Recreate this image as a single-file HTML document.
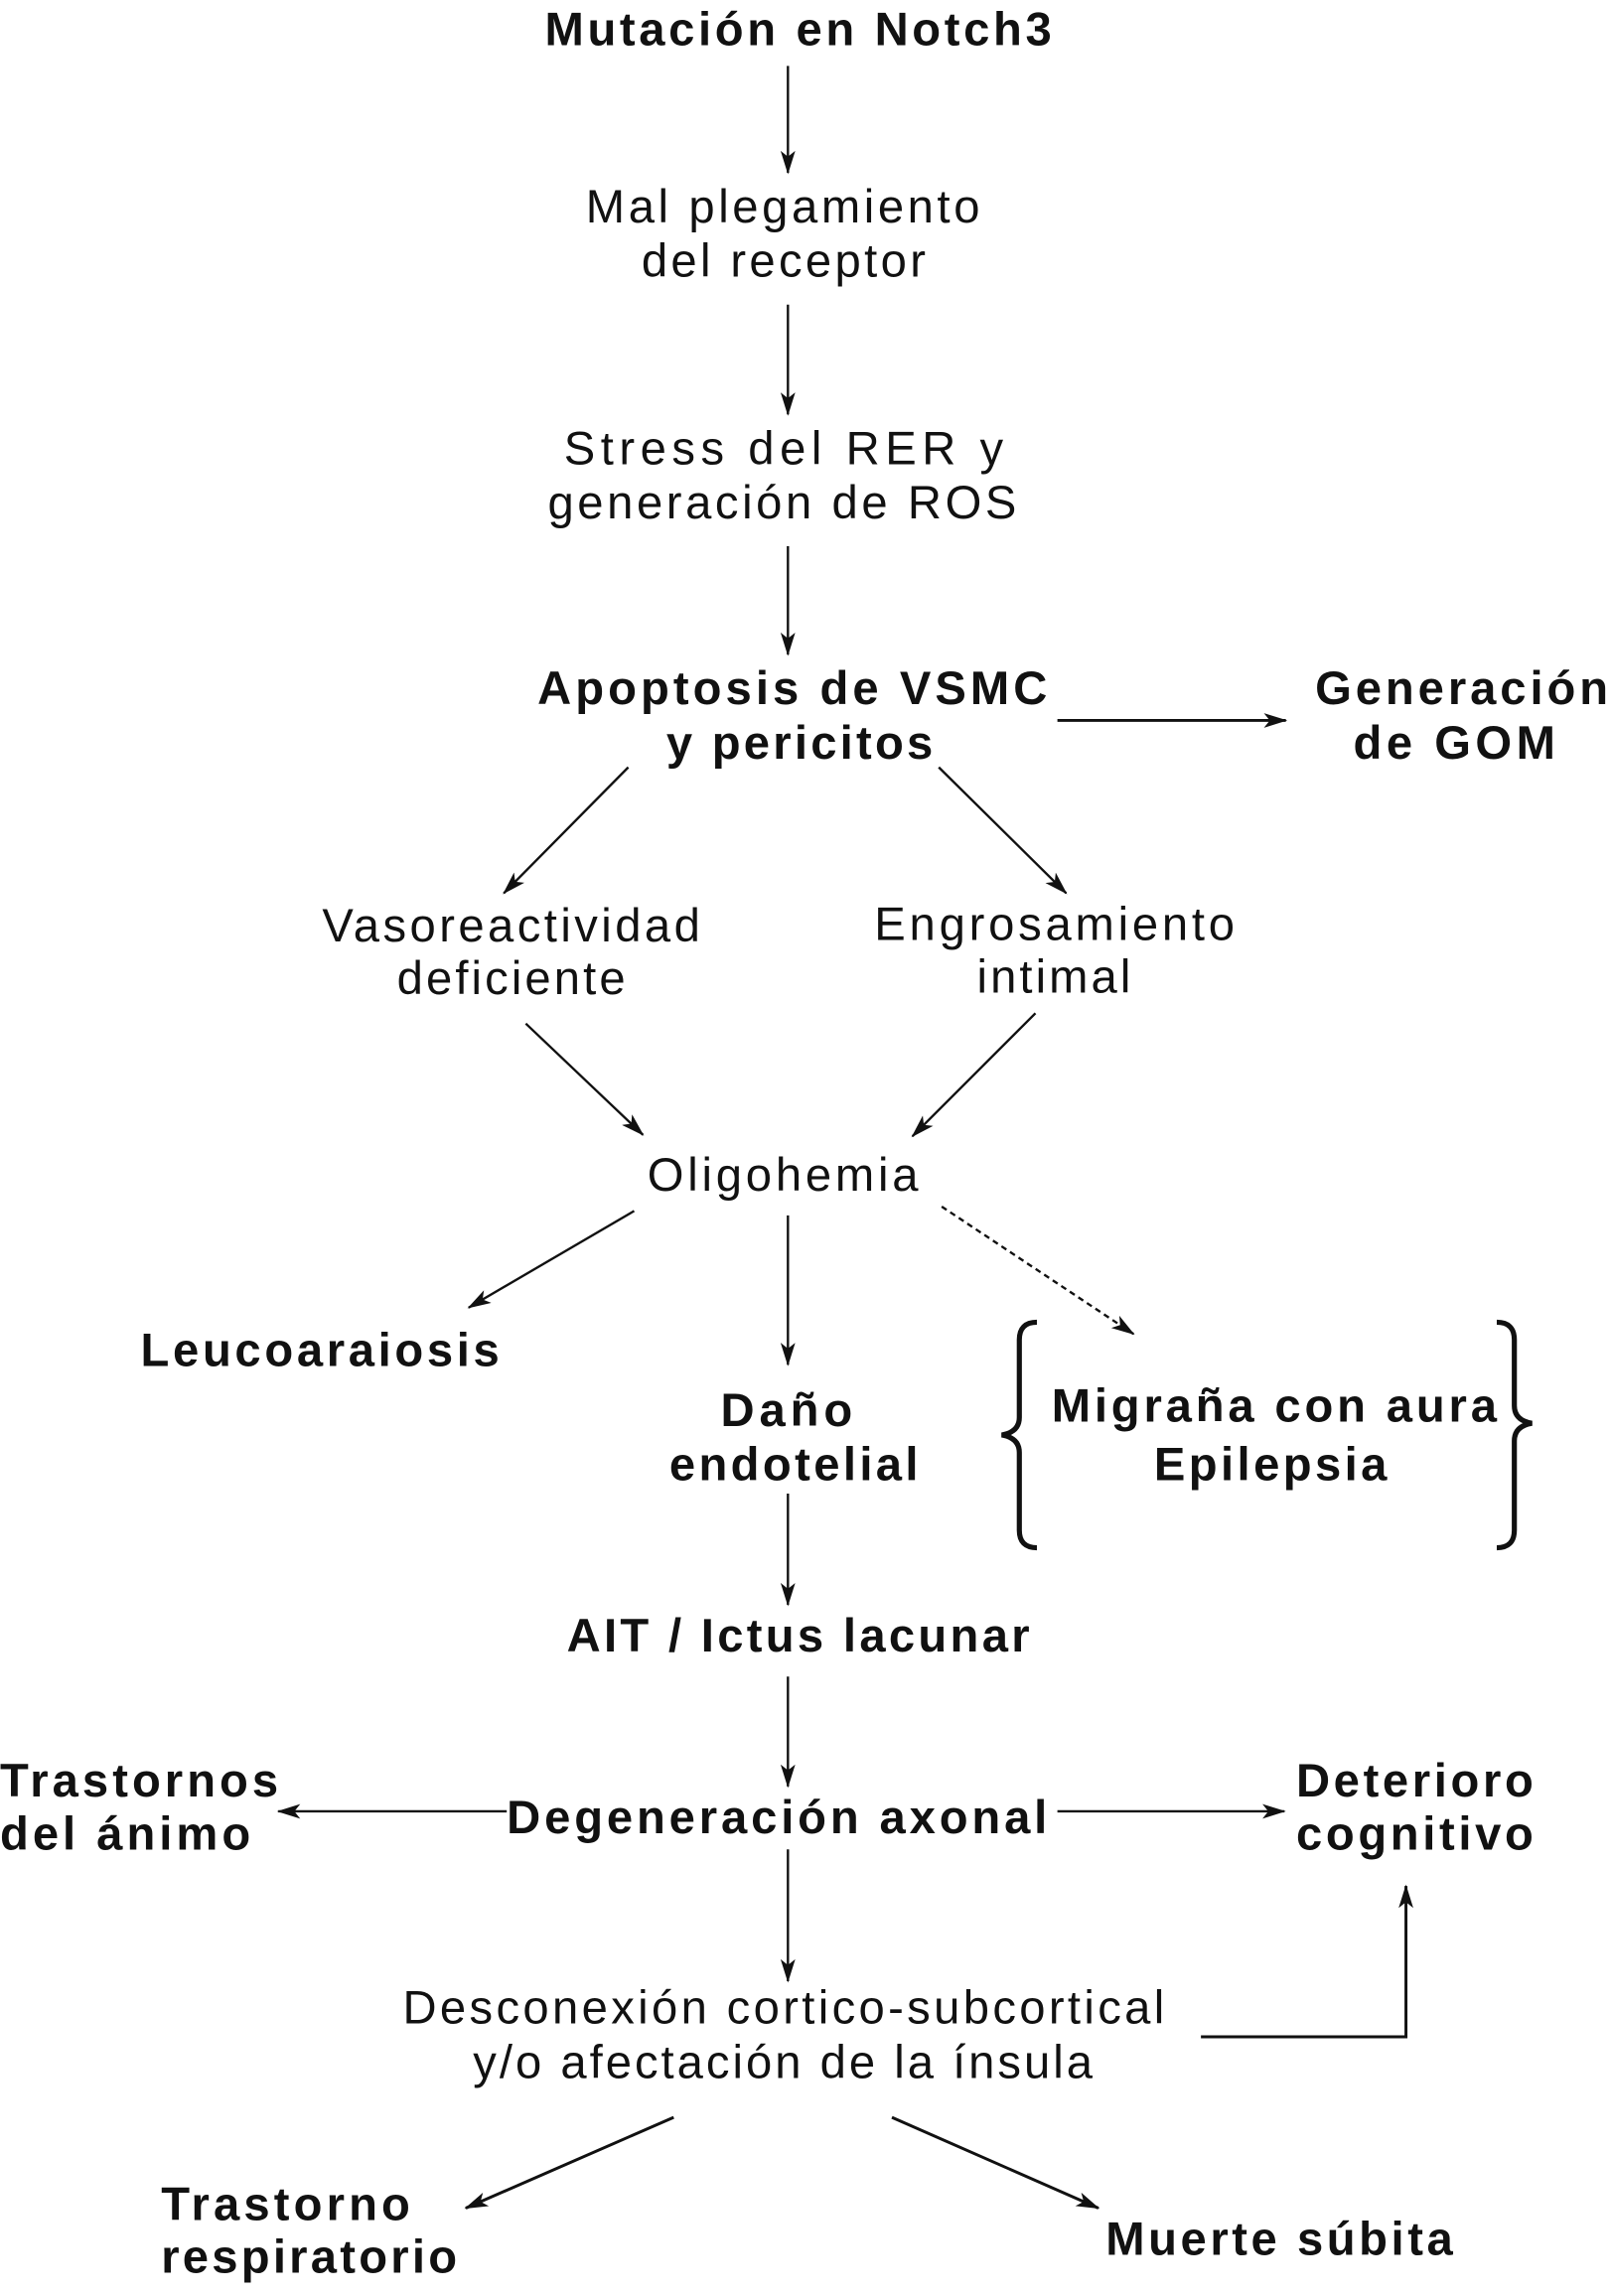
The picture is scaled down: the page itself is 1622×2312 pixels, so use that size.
<!DOCTYPE html>
<html><head><meta charset="utf-8"><style>html,body{margin:0;padding:0;background:#fff}svg{display:block}</style></head>
<body>
<svg width="1622" height="2312" viewBox="0 0 1100 1568" preserveAspectRatio="none" xmlns="http://www.w3.org/2000/svg">
<defs>
<marker id="a" viewBox="0 0 16 10" refX="15" refY="5" markerWidth="16" markerHeight="10" markerUnits="userSpaceOnUse" orient="auto">
<path d="M0,0 L16,5 L0,10 L4,5 Z" fill="#111"/></marker>
</defs>
<g font-family="Liberation Sans, Arial, sans-serif" font-size="32" fill="#111" lengthAdjust="spacingAndGlyphs">
<g font-weight="bold">
<text x="372" y="31" textLength="346">Mutación en Notch3</text>
<text x="367" y="481" textLength="348">Apoptosis de VSMC</text>
<text x="455" y="518" textLength="182">y pericitos</text>
<text x="898" y="481" textLength="200">Generación</text>
<text x="924" y="518" textLength="138">de GOM</text>
<text x="96" y="933" textLength="245">Leucoaraiosis</text>
<text x="492" y="974" textLength="90">Daño</text>
<text x="457" y="1011" textLength="170">endotelial</text>
<text x="718" y="971" textLength="304">Migraña con aura</text>
<text x="788" y="1011" textLength="159">Epilepsia</text>
<text x="387" y="1128" textLength="316">AIT / Ictus lacunar</text>
<text x="346" y="1252" textLength="369">Degeneración axonal</text>
<text x="0" y="1227" textLength="190">Trastornos</text>
<text x="0" y="1263" textLength="171">del ánimo</text>
<text x="885" y="1227" textLength="162">Deterioro</text>
<text x="885" y="1263" textLength="162">cognitivo</text>
<text x="110" y="1516" textLength="170">Trastorno</text>
<text x="110" y="1552" textLength="202">respiratorio</text>
<text x="755" y="1540" textLength="237">Muerte súbita</text>
</g>
<text x="400" y="152" textLength="269">Mal plegamiento</text>
<text x="438" y="189" textLength="194">del receptor</text>
<text x="385" y="317" textLength="300">Stress del RER y</text>
<text x="374" y="354" textLength="320">generación de ROS</text>
<text x="220" y="643" textLength="258">Vasoreactividad</text>
<text x="271" y="679" textLength="156">deficiente</text>
<text x="597" y="642" textLength="246">Engrosamiento</text>
<text x="667" y="678" textLength="105">intimal</text>
<text x="442" y="813" textLength="185">Oligohemia</text>
<text x="275" y="1382" textLength="520">Desconexión cortico-subcortical</text>
<text x="323" y="1419" textLength="423">y/o afectación de la ínsula</text>
</g>
<g stroke="#111" stroke-width="1.6" fill="none" marker-end="url(#a)">
<line x1="538" y1="45" x2="538" y2="118"/>
<line x1="538" y1="208" x2="538" y2="283"/>
<line x1="538" y1="373" x2="538" y2="447"/>
<line x1="722" y1="492" x2="878" y2="492" stroke-width="2"/>
<line x1="429" y1="524" x2="344" y2="610"/>
<line x1="641" y1="524" x2="728" y2="610"/>
<line x1="359" y1="699" x2="439" y2="775"/>
<line x1="707" y1="692" x2="623" y2="776"/>
<line x1="433" y1="827" x2="320" y2="893"/>
<line x1="538" y1="830" x2="538" y2="932"/>
<line x1="643" y1="824" x2="774" y2="911" stroke-dasharray="4,3"/>
<line x1="538" y1="1020" x2="538" y2="1096"/>
<line x1="538" y1="1145" x2="538" y2="1220"/>
<line x1="346" y1="1237" x2="190" y2="1237"/>
<line x1="722" y1="1237" x2="877" y2="1237"/>
<line x1="538" y1="1263" x2="538" y2="1353"/>
<polyline points="820,1391 960,1391 960,1288" stroke-width="2"/>
<line x1="460" y1="1446" x2="318" y2="1508" stroke-width="2"/>
<line x1="609" y1="1446" x2="750" y2="1508" stroke-width="2"/>
</g>
<g stroke="#111" stroke-width="3.5" fill="none">
<path d="M708,903 Q696,903 696,915 L696,968 Q696,978 684,980 Q696,982 696,992 L696,1045 Q696,1057 708,1057"/>
<path d="M1022,903 Q1034,903 1034,915 L1034,960 Q1034,970 1046,972 Q1034,974 1034,984 L1034,1045 Q1034,1057 1022,1057"/>
</g>
</svg>
</body></html>
